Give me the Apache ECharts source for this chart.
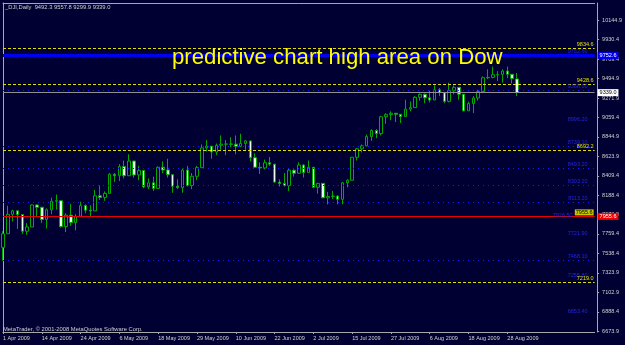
<!DOCTYPE html>
<html>
<head>
<meta charset="utf-8">
<script src="https://cdn.jsdelivr.net/npm/echarts@6/dist/echarts.min.js"></script>
<style>
  html, body { margin: 0; padding: 0; background: #000032; }
  #chart { width: 625px; height: 345px; }
</style>
</head>
<body>
<div id="chart"></div>
<script>
// trading days shown on the chart
const dates = [
  '1 Apr 2009','2 Apr 2009','3 Apr 2009','6 Apr 2009','7 Apr 2009','8 Apr 2009','9 Apr 2009','13 Apr 2009','14 Apr 2009','15 Apr 2009',
  '16 Apr 2009','17 Apr 2009','20 Apr 2009','21 Apr 2009','22 Apr 2009','23 Apr 2009','24 Apr 2009','27 Apr 2009','28 Apr 2009','29 Apr 2009',
  '30 Apr 2009','1 May 2009','4 May 2009','5 May 2009','6 May 2009','7 May 2009','8 May 2009','11 May 2009','12 May 2009','13 May 2009',
  '14 May 2009','15 May 2009','18 May 2009','19 May 2009','20 May 2009','21 May 2009','22 May 2009','26 May 2009','27 May 2009','28 May 2009',
  '29 May 2009','1 Jun 2009','2 Jun 2009','3 Jun 2009','4 Jun 2009','5 Jun 2009','8 Jun 2009','9 Jun 2009','10 Jun 2009','11 Jun 2009',
  '12 Jun 2009','15 Jun 2009','16 Jun 2009','17 Jun 2009','18 Jun 2009','19 Jun 2009','22 Jun 2009','23 Jun 2009','24 Jun 2009','25 Jun 2009',
  '26 Jun 2009','29 Jun 2009','30 Jun 2009','1 Jul 2009','2 Jul 2009','6 Jul 2009','7 Jul 2009','8 Jul 2009','9 Jul 2009','10 Jul 2009',
  '13 Jul 2009','14 Jul 2009','15 Jul 2009','16 Jul 2009','17 Jul 2009','20 Jul 2009','21 Jul 2009','22 Jul 2009','23 Jul 2009','24 Jul 2009',
  '27 Jul 2009','28 Jul 2009','29 Jul 2009','30 Jul 2009','31 Jul 2009','3 Aug 2009','4 Aug 2009','5 Aug 2009','6 Aug 2009','7 Aug 2009',
  '10 Aug 2009','11 Aug 2009','12 Aug 2009','13 Aug 2009','14 Aug 2009','17 Aug 2009','18 Aug 2009','19 Aug 2009','20 Aug 2009','21 Aug 2009',
  '24 Aug 2009','25 Aug 2009','26 Aug 2009','27 Aug 2009','28 Aug 2009','31 Aug 2009','1 Sep 2009'
];

const opens = [
  7608.9,7761.6,7978.1,8017.6,7975.9,7789.6,7837.1,8083.4,8057.8,7920.2,
  8029.6,8125.4,8131.3,7841.7,7969.6,7886.6,7957.1,8076.3,8025.0,8017.0,
  8185.7,8168.1,8212.4,8426.7,8410.7,8512.3,8409.9,8574.7,8418.8,8469.1,
  8284.9,8331.3,8268.6,8504.1,8474.9,8422.0,8292.1,8277.3,8473.5,8300.0,
  8403.8,8500.3,8721.4,8740.9,8675.2,8750.2,8763.1,8764.5,8763.1,8739.0,
  8770.9,8799.3,8612.1,8504.7,8497.2,8555.6,8539.7,8339.0,8322.9,8299.9,
  8472.4,8438.4,8529.4,8447.0,8504.1,8280.7,8324.9,8163.6,8178.4,8183.2,
  8146.5,8331.7,8359.5,8616.2,8711.8,8743.9,8848.2,8915.9,8881.3,9069.3,
  9093.2,9108.5,9096.7,9070.7,9154.5,9171.6,9286.6,9320.2,9281.0,9256.3,
  9370.1,9338.0,9241.5,9361.6,9398.2,9321.4,9135.3,9217.9,9279.2,9350.1,
  9506.0,9509.3,9539.3,9543.5,9580.6,9544.2,9492.3
];
const highs = [
  7790,8075,8030,8018,7976,7880,8090,8090,8058,8045,
  8165,8200,8131,7990,8095,7980,8120,8090,8080,8250,
  8300,8235,8440,8440,8540,8580,8650,8575,8520,8470,
  8380,8400,8515,8570,8600,8422,8370,8490,8520,8440,
  8520,8760,8810,8741,8770,8860,8810,8840,8860,8880,
  8810,8800,8660,8560,8590,8620,8540,8370,8440,8490,
  8480,8560,8540,8580,8504,8330,8325,8230,8240,8190,
  8340,8370,8620,8720,8760,8870,8930,8930,9080,9110,
  9130,9110,9100,9260,9240,9300,9330,9330,9360,9420,
  9390,9340,9450,9420,9400,9321,9240,9300,9370,9520,
  9600,9630,9580,9600,9630,9545,9557.8
];
const lows = [
  7460,7761,7900,7815,7760,7750,7837,7960,7880,7820,
  7980,8030,7830,7780,7850,7800,7950,7990,7960,8017,
  8140,8130,8212,8340,8350,8380,8409,8390,8360,8270,
  8260,8240,8268,8440,8390,8220,8260,8220,8290,8260,
  8360,8500,8680,8600,8640,8700,8640,8730,8650,8730,
  8700,8570,8500,8430,8480,8520,8330,8290,8290,8240,
  8400,8430,8390,8447,8270,8210,8160,8090,8150,8090,
  8090,8280,8359,8580,8670,8740,8800,8830,8860,8990,
  9030,9010,9000,9070,9130,9171,9250,9220,9230,9256,
  9300,9220,9230,9320,9260,9130,9135,9110,9250,9350,
  9490,9500,9470,9450,9500,9440,9299.9
];
const closes = [
  7761.6,7978.1,8017.6,7975.9,7789.6,7837.1,8083.4,8057.8,7920.2,8029.6,
  8125.4,8131.3,7841.7,7969.6,7886.6,7957.1,8076.3,8025.0,8017.0,8185.7,
  8168.1,8212.4,8426.7,8410.7,8512.3,8409.9,8574.7,8418.8,8469.1,8284.9,
  8331.3,8268.6,8504.1,8474.9,8422.0,8292.1,8277.3,8473.5,8300.0,8403.8,
  8500.3,8721.4,8740.9,8675.2,8750.2,8763.1,8764.5,8763.1,8739.0,8770.9,
  8799.3,8612.1,8504.7,8497.2,8555.6,8539.7,8339.0,8322.9,8299.9,8472.4,
  8438.4,8529.4,8447.0,8504.1,8280.7,8324.9,8163.6,8178.4,8183.2,8146.5,
  8331.7,8359.5,8616.2,8711.8,8743.9,8848.2,8915.9,8881.3,9069.3,9093.2,
  9108.5,9096.7,9070.7,9154.5,9171.6,9286.6,9320.2,9281.0,9256.3,9370.1,
  9338.0,9241.5,9361.6,9398.2,9321.4,9135.3,9217.9,9279.2,9350.1,9506.0,
  9509.3,9539.3,9543.5,9580.6,9544.2,9496.3,9339.0
];

// right-hand price scale labels
const yTickLabels = [10144.9, 9930.4, 9709.4, 9494.9, 9271.9, 9059.4, 8844.9, 8623.9,
  8409.4, 8188.4, 7973.9, 7759.4, 7538.4, 7323.9, 7102.9, 6888.4, 6673.9];

// horizontal levels drawn on the chart
const yellowLevels = [9834.6, 9428.6, 8692.2, 7219.0];
const blueLevel = 9752.6;
const bidLevel = 9339.0;
const redLevel = 7955.6;
const dottedLevels = [9368.0, 8739.1, 8493.2, 8303.2, 8113.2, 7468.1];
// levels that only show their small label
const labelOnlyLevels = [9752.6, 8996.2, 7926.5, 7721.9, 7255.8, 6853.4];

const emptySlots = 16;
const categories = dates.concat(new Array(emptySlots).fill(''));
const candles = dates.map((d, i) => [opens[i], closes[i], lows[i], highs[i]]);

const small = 5.5;
const font = 'Liberation Sans';
const clear = 'rgba(0,0,0,0)';

const blueText = (v, pad) => ({
  show: true, position: 'insideEndTop', formatter: v.toFixed(2), color: '#2424e0',
  fontSize: small, fontFamily: font, distance: 1, padding: [0, pad, 0, 0]
});

const marks = [];
dottedLevels.forEach(v => marks.push({
  yAxis: v,
  lineStyle: { color: '#1818ff', type: [1, 4], width: 1 },
  label: blueText(v, 6)
}));
labelOnlyLevels.forEach(v => marks.push({
  yAxis: v,
  lineStyle: { color: clear, width: 1 },
  label: blueText(v, v === 7926.5 ? 21 : 6)
}));
yellowLevels.forEach(v => marks.push({
  yAxis: v,
  lineStyle: { color: '#e0e000', type: [3, 2], width: 1 },
  label: { show: true, position: 'insideEndTop', formatter: v.toFixed(1), color: '#e0e000', fontSize: small, fontFamily: font, distance: 1 }
}));
marks.push({
  yAxis: blueLevel,
  lineStyle: { color: '#0000f0', type: 'solid', width: 3 },
  label: { show: true, position: 'end', formatter: blueLevel.toFixed(1), color: '#ffffff', backgroundColor: '#0000f0', padding: [1, 2, 0, 2], fontSize: small, fontFamily: font, distance: 3 }
});
marks.push({
  yAxis: bidLevel,
  lineStyle: { color: '#909090', type: 'solid', width: 1 },
  label: { show: true, position: 'end', formatter: bidLevel.toFixed(1), color: '#000000', backgroundColor: '#ffffff', padding: [1, 2, 0, 2], fontSize: small, fontFamily: font, distance: 3 }
});
marks.push({
  yAxis: redLevel,
  lineStyle: { color: '#e80000', type: 'solid', width: 1 },
  label: { show: true, position: 'end', formatter: redLevel.toFixed(1), color: '#ffffff', backgroundColor: '#f00000', padding: [1, 2, 0, 2], fontSize: small, fontFamily: font, distance: 3 }
});
marks.push({
  yAxis: redLevel,
  lineStyle: { color: clear, width: 1 },
  label: { show: true, position: 'insideEndTop', formatter: redLevel.toFixed(1), color: '#000000', backgroundColor: '#c8c800', padding: [0, 1], fontSize: small, fontFamily: font, distance: 1 }
});

const chart = echarts.init(document.getElementById('chart'));
chart.setOption({
  backgroundColor: '#000032',
  animation: false,
  title: [
    { text: 'predictive chart high area on Dow', left: 172, top: 47, padding: 0,
      textStyle: { color: '#ffff00', fontSize: 22.2, fontWeight: 'normal', fontFamily: font } },
    { text: '_DJI,Daily  9492.3 9557.8 9299.9 9339.0', left: 5, top: 4, padding: 0,
      textStyle: { color: '#d0d0d0', fontSize: 5.8, fontWeight: 'normal', fontFamily: font } },
    { text: 'MetaTrader, © 2001-2008 MetaQuotes Software Corp.', left: 3, top: 326, padding: 0,
      textStyle: { color: '#d0d0d0', fontSize: 5.8, fontWeight: 'normal', fontFamily: font } }
  ],
  grid: { left: 3, top: 3, right: 28.5, bottom: 13, containLabel: false },
  xAxis: [
    {
      type: 'category', data: categories, boundaryGap: false,
      axisLine: { lineStyle: { color: '#a8a8a8', width: 1 } },
      axisTick: { length: 2, lineStyle: { color: '#a8a8a8' }, interval: (i, v) => i % 8 === 0 && v !== '' },
      axisLabel: { interval: (i, v) => i % 8 === 0 && v !== '', align: 'left', margin: 3,
        color: '#d0d0d0', fontSize: small, fontFamily: font },
      splitLine: { show: false }
    },
    {
      type: 'category', data: categories, boundaryGap: false, position: 'top',
      axisLine: { lineStyle: { color: '#a8a8a8', width: 1 } },
      axisTick: { show: false }, axisLabel: { show: false }, splitLine: { show: false }
    }
  ],
  yAxis: [
    {
      type: 'value', position: 'right', offset: 2.5, min: 6663.4, max: 10340.9, scale: true,
      axisLine: { show: true, lineStyle: { color: '#a8a8a8', width: 1 } },
      axisTick: { show: true, inside: false, length: 2, customValues: yTickLabels, lineStyle: { color: '#a8a8a8' } },
      axisLabel: { customValues: yTickLabels, formatter: v => v.toFixed(1), margin: 5,
        color: '#d0d0d0', fontSize: small, fontFamily: font },
      splitLine: { show: false }
    },
    {
      type: 'value', position: 'left', min: 6663.4, max: 10340.9,
      axisLine: { show: true, lineStyle: { color: '#a8a8a8', width: 1 } },
      axisTick: { show: false }, axisLabel: { show: false }, splitLine: { show: false }
    }
  ],
  series: [{
    type: 'candlestick',
    data: candles,
    barWidth: 3,
    clip: false,
    itemStyle: {
      color: '#000032', color0: '#e6ffe6',
      borderColor: '#00a800', borderColor0: '#00a800', borderWidth: 1
    },
    markLine: { silent: true, symbol: ['none', 'none'], animation: false, data: marks }
  }]
});
</script>
</body>
</html>
